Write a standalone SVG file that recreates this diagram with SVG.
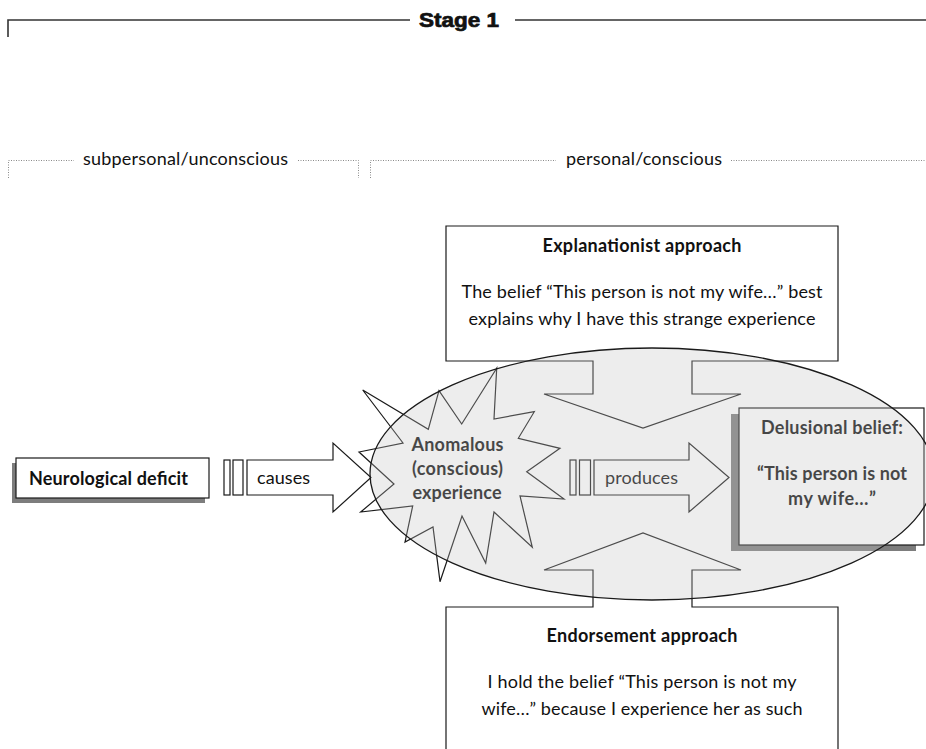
<svg xmlns="http://www.w3.org/2000/svg" width="926" height="749" viewBox="0 0 926 749">
<defs>
<style>
.t{font-family:Lato,"Noto Sans","Liberation Sans",sans-serif;font-size:18px;fill:#111;}
.b{font-weight:bold;}
.m{text-anchor:middle;}
.shape{fill:#fff;stroke:#1a1a1a;stroke-width:1.2;}
.open{fill:none;stroke:#1a1a1a;stroke-width:1.2;}
.shadow{fill:#7d7d7d;}
.dot{fill:none;stroke:#8a8a8a;stroke-width:1;stroke-dasharray:1 1.5;}
.stage{fill:none;stroke:#333;stroke-width:1.6;}
</style>
</defs>
<rect width="926" height="749" fill="#fff"/>

<g id="stage-bracket">
<path class="stage" d="M8,37 V20 H410 M515,20 H926"/>
<text x="419" y="27" font-family="'Liberation Sans',Arial,sans-serif" font-size="19.5" font-weight="bold" fill="#111" stroke="#111" stroke-width="0.7" textLength="80" lengthAdjust="spacingAndGlyphs">Stage 1</text>
</g>

<g id="subpersonal-bracket">
<path class="dot" d="M8.5,178 V160.5 H74 M298,160.5 H358.5 V178"/>
<text class="t" x="83" y="165" textLength="205" lengthAdjust="spacing">subpersonal/unconscious</text>
</g>

<g id="personal-bracket">
<path class="dot" d="M370.5,178 V160.5 H556 M731,160.5 H926"/>
<text class="t" x="566" y="165" textLength="156" lengthAdjust="spacing">personal/conscious</text>
</g>

<g id="explanationist">
<path class="shape" d="M446,226 H838 V361 H692 V394 H741 L643,428 L544,394 H593 V361 H446 Z"/>
<text class="t b m" x="642" y="252" textLength="199" lengthAdjust="spacing">Explanationist approach</text>
<text class="t m" x="642" y="298" textLength="361" lengthAdjust="spacing">The belief “This person is not my wife…” best</text>
<text class="t m" x="642" y="325" textLength="347" lengthAdjust="spacing">explains why I have this strange experience</text>
</g>

<g id="endorsement">
<path class="shape" d="M446,760 V607 H593 V570 H544 L643,533 L741,570 H692 V607 H838 V760"/>
<text class="t b m" x="642" y="642" textLength="191" lengthAdjust="spacing">Endorsement approach</text>
<text class="t m" x="642" y="688" textLength="309" lengthAdjust="spacing">I hold the belief “This person is not my</text>
<text class="t m" x="642" y="715" textLength="321" lengthAdjust="spacing">wife…” because I experience her as such</text>
</g>

<g id="neurological-deficit">
<rect class="shadow" x="12" y="463" width="193" height="40"/>
<rect class="shape" x="16" y="458" width="193" height="40"/>
<text class="t b" x="29" y="485" textLength="159" lengthAdjust="spacing">Neurological deficit</text>
</g>

<g id="connectors">
<g id="causes-arrow">
<rect class="shape" x="224" y="460" width="6" height="35"/>
<rect class="shape" x="233" y="460" width="10" height="35"/>
<path class="shape" d="M247,460 H333 V443 L371,477.5 L333,512 V495 H247 Z"/>
<text class="t" x="257" y="484" textLength="53" lengthAdjust="spacing">causes</text>
</g>
<g id="produces-arrow">
<rect class="shape" x="570" y="460" width="6" height="35"/>
<rect class="shape" x="579.5" y="460" width="11" height="35"/>
<path class="shape" d="M594,460 H689 V443 L729,477.5 L689,512 V495 H594 Z"/>
<text class="t" x="605" y="484" textLength="73" lengthAdjust="spacing">produces</text>
</g>
</g>

<g id="anomalous-experience">
<polygon class="open" points="496.7,368.3 494,419 534.3,411.7 518.3,438.3 560,448.3 526.7,471.7 564,499 520,496 532.3,547.3 494,512 485.7,563 462,516 440,581.7 433,527 405,542 412.7,506 360.7,512 394,484 359,452 403,443 362.7,390 428.3,429.3 439,390.7 461.7,424"/>
<text class="t b m" x="457.5" y="451" textLength="92" lengthAdjust="spacing">Anomalous</text>
<text class="t b m" x="457.5" y="475" textLength="91" lengthAdjust="spacing">(conscious)</text>
<text class="t b m" x="457" y="499" textLength="89" lengthAdjust="spacing">experience</text>
</g>

<g id="delusional-belief">
<rect class="shadow" x="731" y="414" width="185" height="137"/>
<rect class="shape" x="739" y="408" width="185" height="137"/>
<text class="t b m" x="832" y="434" textLength="142" lengthAdjust="spacing">Delusional belief:</text>
<text class="t b m" x="832" y="480" textLength="150" lengthAdjust="spacing">“This person is not</text>
<text class="t b m" x="832" y="505" textLength="88" lengthAdjust="spacing">my wife…”</text>
</g>

<g id="conscious-field">
<ellipse cx="652" cy="474" rx="282" ry="126" fill="#c4c4c4" fill-opacity="0.3" stroke="#1a1a1a" stroke-width="1.3"/>
</g>
</svg>
